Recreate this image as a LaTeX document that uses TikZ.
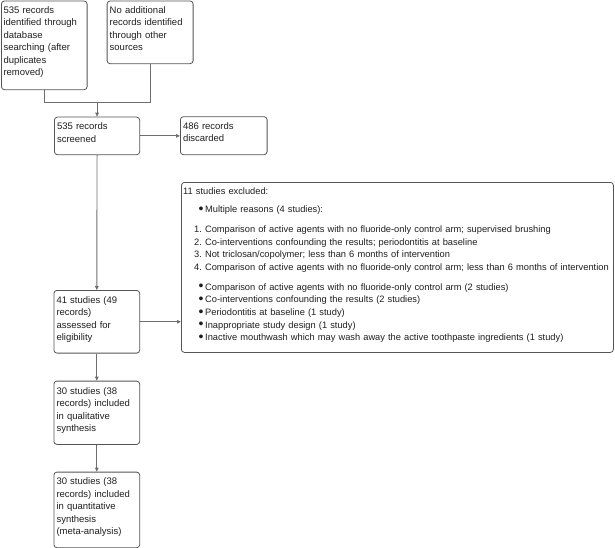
\documentclass[tikz,border=0pt]{standalone}
\usepackage{fontspec}
\setmainfont{Liberation Sans}
\usetikzlibrary{arrows.meta}
\definecolor{bordergray}{HTML}{555555}
\definecolor{linegray}{HTML}{6E6E6E}
\definecolor{txtcol}{HTML}{1E1E1E}
\tikzset{
  box/.style={draw=bordergray, line width=0.8pt, rounded corners=3pt, inner sep=0pt, anchor=north west},
  txt/.style={anchor=base west, inner sep=0pt, align=left, text=txtcol, font=\fontsize{9.5}{12.5}\selectfont},
  conn/.style={draw=linegray, line width=0.9pt},
  arr/.style={conn, -{Triangle[length=4pt,width=3.6pt]}}
}
\newcommand{\numitem}[1]{\hspace*{11pt}#1\ }
\newcommand{\bulitem}{\hspace*{15.3pt}\makebox[6.7pt][l]{\fontsize{14}{12.5}\selectfont\raisebox{-0.8pt}{\textbullet}}}
\begin{document}
\begin{tikzpicture}[x=1pt,y=-1pt]
\useasboundingbox (0,0) rectangle (615,548);
% boxes
\node[box, minimum width=85.7pt, minimum height=88.7pt] (A) at (1,0.6) {};
\node[box, minimum width=86pt, minimum height=62.7pt] (B) at (106.7,0.6) {};
\node[box, minimum width=85.3pt, minimum height=37.6pt] (C) at (54,116.7) {};
\node[box, minimum width=86.7pt, minimum height=38pt] (D) at (180,116.3) {};
\node[box, minimum width=432pt, minimum height=170pt] (E) at (181,182) {};
\node[box, minimum width=85.8pt, minimum height=62.7pt] (F) at (53.5,290) {};
\node[box, minimum width=85.8pt, minimum height=63.3pt] (G) at (53.5,380.7) {};
\node[box, minimum width=85.8pt, minimum height=75.6pt] (H) at (53.5,471.7) {};
% texts
\node[txt, text width=84pt] (tA) at (3.3,13.3) {535 records\\identified through\\database\\searching (after\\duplicates\\removed)};
\node[txt, text width=84pt] (tB) at (109.5,13.3) {No additional\\records identified\\through other\\sources};
\node[txt, text width=84pt] (tC) at (56.8,129.7) {535 records\\screened};
\node[txt, text width=84pt] (tD) at (182.8,129.5) {486 records\\discarded};
\node[txt, text width=84pt] (tF) at (56.3,303.3) {41 studies (49\\records)\\assessed for\\eligibility};
\node[txt, text width=84pt] (tG) at (56.3,394.3) {30 studies (38\\records) included\\in qualitative\\synthesis};
\node[txt, text width=84pt] (tH) at (56.3,484.7) {30 studies (38\\records) included\\in quantitative\\synthesis\\(meta-analysis)};
\node[txt, text width=428pt, font=\fontsize{9.3}{12.5}\selectfont] (tE) at (183,194.5) {11 studies excluded:\\[5.5pt]
\bulitem Multiple reasons (4 studies):\\[7.5pt]
\numitem{1.}Comparison of active agents with no fluoride-only control arm; supervised brushing\\
\numitem{2.}Co-interventions confounding the results; periodontitis at baseline\\
\numitem{3.}Not triclosan/copolymer; less than 6 months of intervention\\
\numitem{4.}Comparison of active agents with no fluoride-only control arm; less than 6 months of intervention\\[7.5pt]
\bulitem Comparison of active agents with no fluoride-only control arm (2 studies)\\[0.2pt]
\bulitem Co-interventions confounding the results (2 studies)\\[0.2pt]
\bulitem Periodontitis at baseline (1 study)\\[0.2pt]
\bulitem Inappropriate study design (1 study)\\[0.2pt]
\bulitem Inactive mouthwash which may wash away the active toothpaste ingredients (1 study)};
% connectors
\coordinate (j) at (C.north |- 0,102.7);
\draw[conn] (A.south) |- (j);
\draw[conn] (B.south) |- (j);
\draw[arr] (j) -- (C.north);
\draw[arr] (C.east) -- (C.east -| D.west);
\draw[arr] (C.south) -- (F.north);
\draw[arr] (F.east) -- (F.east -| E.west);
\draw[arr] (F.south) -- (G.north);
\draw[arr] (G.south) -- (H.north);
\end{tikzpicture}
\end{document}
